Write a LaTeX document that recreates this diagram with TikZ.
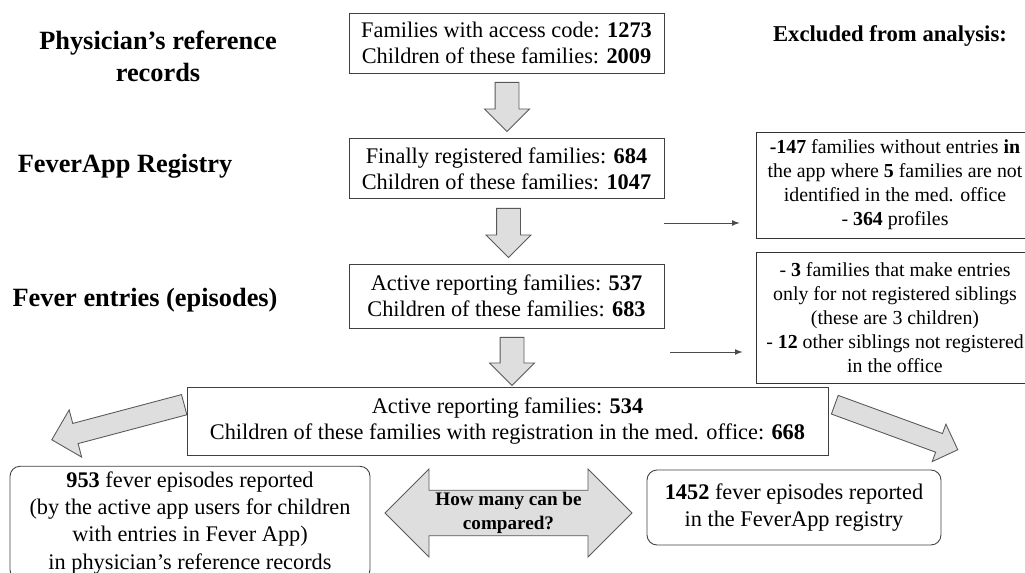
\documentclass[tikz,border=0pt]{standalone}
\usepackage{fontspec}
\setmainfont{Liberation Serif}
\usetikzlibrary{shapes.arrows, positioning, arrows}

\tikzset{
  box/.style={draw=black!75, line width=0.5pt, minimum width=6.3cm, minimum height=1.2cm,
    align=center, font=\fontsize{12.7}{14.8}\selectfont},
  exbox/.style={draw=black!80, line width=0.5pt, minimum width=5.56cm, align=center,
    font=\fontsize{11.3}{13.7}\selectfont},
  resbox/.style={draw=black!75, line width=0.5pt, rounded corners=0.2cm, align=center,
    font=\fontsize{12.7}{15.4}\selectfont},
  heading/.style={align=center, font=\fontsize{15}{18.2}\selectfont\bfseries},
  blockarrow/.style={single arrow, draw=black!65, fill=black!13, line width=0.5pt,
    anchor=tail, inner xsep=0pt},
  downarrow/.style={blockarrow, rotate=-90, inner ysep=0.23cm, minimum height=0.98cm,
    single arrow head extend=0.21cm},
  thinarrow/.style={-latex, draw=black!70, line width=0.5pt}
}

\begin{document}
\begin{tikzpicture}[x=0.02cm, y=0.02cm]
  \useasboundingbox (0,0) rectangle (1025,572);
  \clip (0,0) rectangle (1025,572);

  % row headings
  \node[heading] (h_phys) at (158,516) {Physician’s reference\\records};
  \node[heading] (h_reg) at (125,406) {FeverApp Registry};
  \node[heading] (h_fev) at (145,272) {Fever entries (episodes)};
  \node[heading, font=\fontsize{12.9}{15}\selectfont\bfseries] (h_ex) at (890,536) {Excluded from analysis:};

  % main column
  \node[box] (b_1) at (506.5,529) {Families with access code: \textbf{1273}\\Children of these families: \textbf{2009}};
  \node[box] (b_2) at (506.5,403.5) {Finally registered families: \textbf{684}\\Children of these families: \textbf{1047}};
  \node[box, minimum height=1.28cm] (b_3) at (506.5,276) {Active reporting families: \textbf{537}\\Children of these families: \textbf{683}};
  \node[box, minimum width=12.82cm, minimum height=1.36cm] (b_4) at (507.5,151)
    {Active reporting families: \textbf{534}\\Children of these families with registration in the med. office: \textbf{668}};

  \node[downarrow] (a_1) at (507,490) {};
  \node[downarrow] (a_2) at (508.5,364) {};
  \node[downarrow, minimum height=0.96cm] (a_3) at (512,235) {};

  % excluded
  \node[exbox, minimum height=2.12cm] (ex_1) at (895,387)
    {\textbf{-147} families without entries \textbf{in}\\the app where \textbf{5} families are not\\identified in the med. office\\- \textbf{364} profiles};
  \node[exbox, minimum height=2.62cm] (ex_2) at (895,254.5)
    {- \textbf{3} families that make entries\\only for not registered siblings\\(these are 3 children)\\- \textbf{12} other siblings not registered\\in the office};

  \coordinate (c_1) at (664,349);
  \coordinate (c_2) at (670,220);
  \draw[thinarrow, shorten >=0.32cm] (c_1) -- (c_1 -| ex_1.west);
  \draw[thinarrow, shorten >=0.26cm] (c_2) -- (c_2 -| ex_2.west);

  % split
  \node[blockarrow, rotate=194.85, inner ysep=0.2cm, minimum height=2.74cm,
    single arrow head extend=0.28cm] (a_l) at ([shift={(-0.04cm,-0.36cm)}]b_4.north west) {};
  \node[blockarrow, rotate=-20.1, inner ysep=0.19cm, minimum height=2.62cm,
    single arrow head extend=0.2cm] (a_r) at ([shift={(0.12cm,-0.36cm)}]b_4.north east) {};

  % results
  \node[resbox, minimum width=7.2cm, minimum height=2.12cm] (r_1) at (190,49)
    {\textbf{953} fever episodes reported\\(by the active app users for children\\with entries in Fever App)\\in physician’s reference records};
  \node[resbox, minimum width=5.88cm, minimum height=1.5cm] (r_2) at (794,64.5)
    {\textbf{1452} fever episodes reported\\in the FeverApp registry};

  \node[double arrow, draw=black!65, fill=black!13, line width=0.5pt, inner xsep=0pt, inner ysep=0pt,
    minimum height=4.94cm, minimum width=1.76cm, double arrow head extend=0.4cm,
    align=center, font=\fontsize{10.9}{14}\selectfont\bfseries] (cmp) at (508.5,59)
    {How many can be\\compared?};
\end{tikzpicture}
\end{document}
